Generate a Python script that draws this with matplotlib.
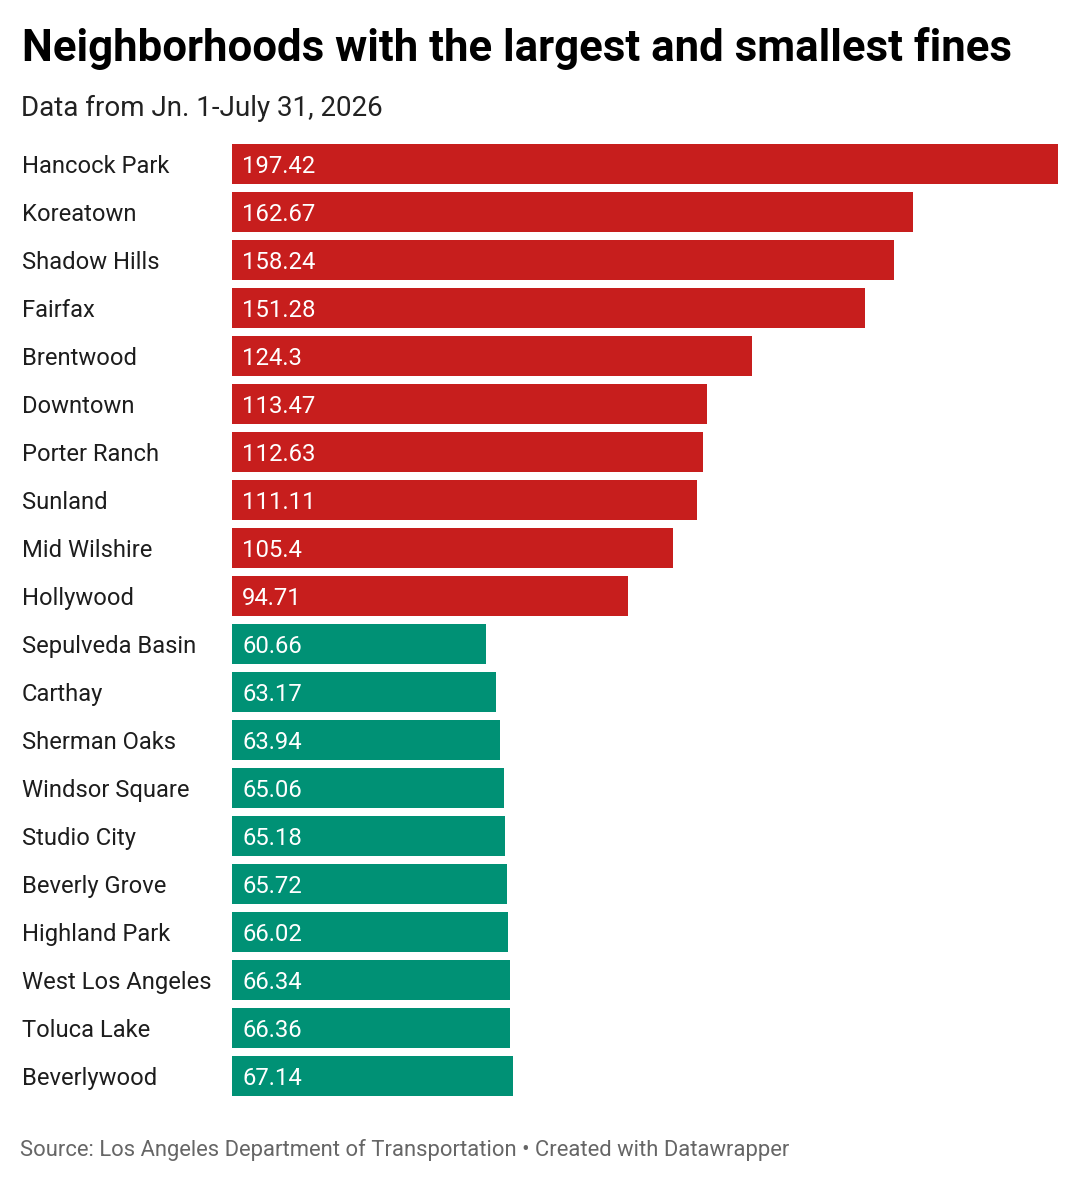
import matplotlib.pyplot as plt

plt.rcParams['font.family'] = ['Roboto', 'DejaVu Sans']

neighborhoods = ['Hancock Park', 'Koreatown', 'Shadow Hills', 'Fairfax', 'Brentwood',
                 'Downtown', 'Porter Ranch', 'Sunland', 'Mid Wilshire', 'Hollywood',
                 'Sepulveda Basin', 'Carthay', 'Sherman Oaks', 'Windsor Square',
                 'Studio City', 'Beverly Grove', 'Highland Park', 'West Los Angeles',
                 'Toluca Lake', 'Beverlywood']
fines = [197.42, 162.67, 158.24, 151.28, 124.3, 113.47, 112.63, 111.11, 105.4, 94.71,
         60.66, 63.17, 63.94, 65.06, 65.18, 65.72, 66.02, 66.34, 66.36, 67.14]
groups = ['largest'] * 10 + ['smallest'] * 10

colors = {'largest': '#c71e1d', 'smallest': '#009175'}

W, H = 1080, 1182
fig = plt.figure(figsize=(W / 100, H / 100), dpi=100)
ax = fig.add_axes([232 / W, (H - 1096) / H, 826 / W, 952 / H])

ypos = list(range(len(fines)))
ax.barh(ypos, fines, height=40 / 48, color=[colors[g] for g in groups], linewidth=0)
ax.set_xlim(0, max(fines))
ax.set_ylim(len(fines) - 1 + 20 / 48, -20 / 48)
ax.axis('off')

for y, name, v in zip(ypos, neighborhoods, fines):
    ax.text(-210 / 826 * max(fines), y, name, ha='left', va='center_baseline',
            fontsize=17.1, color='#1d1d1d')
    ax.text(10 / 826 * max(fines), y, f'{v:g}', ha='left', va='center_baseline',
            fontsize=17.2, color='white')

fig.text(22 / W, 1 - 61 / H, 'Neighborhoods with the largest and smallest fines',
         fontsize=31.5, fontweight='bold', color='black', va='baseline')
fig.text(21 / W, 1 - 116 / H, 'Data from Jn. 1-July 31, 2026',
         fontsize=20, color='#222222', va='baseline')
fig.text(20 / W, 1 - 1156 / H,
         'Source: Los Angeles Department of Transportation \u2022 Created with Datawrapper',
         fontsize=15.8, color='#666666', va='baseline')

fig.savefig('out.png', dpi=100, facecolor='white')
